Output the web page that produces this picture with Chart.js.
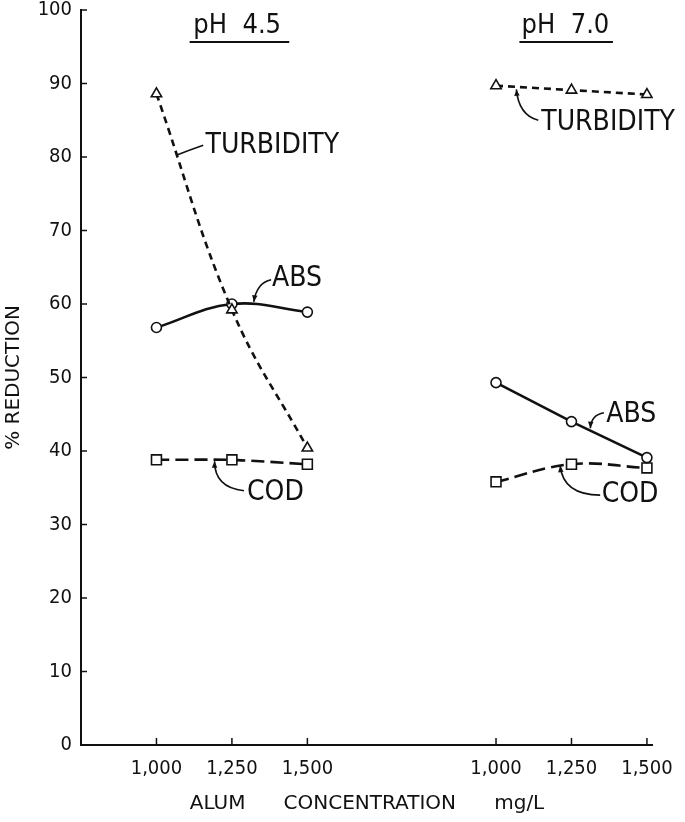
<!DOCTYPE html>
<html>
<head>
<meta charset="utf-8">
<script src="https://cdn.jsdelivr.net/npm/chart.js@4.4.0/dist/chart.umd.min.js"></script>
<style>
  html, body { margin: 0; padding: 0; background: #fff; }
</style>
</head>
<body>
<canvas id="chart" width="685" height="822"></canvas>
<script>
const doses = [1000, 1250, 1500];
const doseLabels = ['1,000', '1,250', '1,500'];
const groupNames = ['pH  4.5', 'pH  7.0'];

// % reduction, one value per dose
const turbidity45 = [88.6, 59.2, 40.4];
const abs45 = [56.8, 60.0, 58.9];
const cod45 = [38.8, 38.8, 38.2];
const turbidity70 = [89.7, 89.1, 88.5];
const abs70 = [49.3, 44.0, 39.1];
const cod70 = [35.8, 38.2, 37.7];

const groupStart = [0, 4.5]; // where each pH block begins on the x axis
const FONT = '"DejaVu Sans Condensed", "Liberation Sans Narrow", "DejaVu Sans", sans-serif';
const WIDE = '"DejaVu Sans", sans-serif';
const INK = '#111';

const toX = (g, dose) => groupStart[g] + (dose - 1000) / 250;

const tickSpots = [];
groupStart.forEach((s, g) => doses.forEach((d, i) => tickSpots.push({ value: toX(g, d), label: doseLabels[i] })));

function series(values, g, style) {
  return Object.assign({
    data: doses.map((d, i) => ({ x: toX(g, d), y: values[i] })),
    borderColor: INK,
    borderWidth: 2.6,
    pointBackgroundColor: '#fff',
    pointBorderColor: INK,
    pointBorderWidth: 1.6,
    fill: false
  }, style);
}

const turbStyle = { borderDash: [7, 5], pointStyle: 'triangle', pointRadius: 6 };
const absStyle = { pointStyle: 'circle', pointRadius: 5 };
const codStyle = { borderDash: [13, 6], pointStyle: 'rect', pointRadius: 7 };

// text labels with their leader lines (data coordinates)
const notes = [
  { text: 'TURBIDITY', at: [0.65, 81.5], from: [0.28, 80.3], ctrl: [0.45, 81.0], to: [0.62, 81.6] },
  { text: 'TURBIDITY', at: [5.10, 84.6], from: [4.77, 89.2], ctrl: [4.80, 85.7], to: [5.06, 85.0], arrow: true },
  { text: 'ABS', at: [1.53, 63.5], from: [1.29, 60.3], ctrl: [1.33, 62.9], to: [1.52, 63.3], arrow: true },
  { text: 'COD', at: [1.20, 34.3], from: [0.77, 38.6], ctrl: [0.77, 35.0], to: [1.16, 34.6], arrow: true },
  { text: 'ABS', at: [5.96, 44.9], from: [5.75, 43.1], ctrl: [5.76, 44.9], to: [5.93, 45.2], arrow: true },
  { text: 'COD', at: [5.90, 34.0], from: [5.35, 38.0], ctrl: [5.39, 34.0], to: [5.88, 34.0], arrow: true }
];
const headers = [
  { text: groupNames[0], at: [1.07, 97.8], line: [0.44, 1.76, 95.65] },
  { text: groupNames[1], at: [5.42, 97.8], line: [4.81, 6.05, 95.65] }
];

const annotate = {
  id: 'annotate',
  afterDraw(chart) {
    const { ctx, scales: { x, y } } = chart;
    const px = v => x.getPixelForValue(v);
    const py = v => y.getPixelForValue(v);
    ctx.save();
    ctx.strokeStyle = INK;
    ctx.fillStyle = INK;

    // inward tick marks
    ctx.lineWidth = 1.5;
    y.ticks.forEach(t => {
      ctx.beginPath();
      ctx.moveTo(x.left, py(t.value));
      ctx.lineTo(x.left + 6, py(t.value));
      ctx.stroke();
    });
    tickSpots.forEach(t => {
      ctx.beginPath();
      ctx.moveTo(px(t.value), y.bottom);
      ctx.lineTo(px(t.value), y.bottom - 7);
      ctx.stroke();
    });

    // group headers
    ctx.font = '27px ' + FONT;
    ctx.textAlign = 'center';
    ctx.textBaseline = 'middle';
    headers.forEach(h => {
      ctx.fillText(h.text, px(h.at[0]), py(h.at[1]));
      ctx.lineWidth = 2;
      ctx.beginPath();
      ctx.moveTo(px(h.line[0]), py(h.line[2]));
      ctx.lineTo(px(h.line[1]), py(h.line[2]));
      ctx.stroke();
    });

    // series labels
    ctx.font = '28px ' + FONT;
    ctx.textAlign = 'left';
    notes.forEach(n => {
      ctx.fillText(n.text, px(n.at[0]), py(n.at[1]));
      ctx.lineWidth = 1.6;
      ctx.beginPath();
      ctx.moveTo(px(n.from[0]), py(n.from[1]));
      ctx.quadraticCurveTo(px(n.ctrl[0]), py(n.ctrl[1]), px(n.to[0]), py(n.to[1]));
      ctx.stroke();
      if (n.arrow) {
        const ax = px(n.from[0]), ay = py(n.from[1]);
        const ang = Math.atan2(ay - py(n.ctrl[1]), ax - px(n.ctrl[0]));
        ctx.beginPath();
        ctx.moveTo(ax, ay);
        ctx.lineTo(ax - 7 * Math.cos(ang - 0.4), ay - 7 * Math.sin(ang - 0.4));
        ctx.lineTo(ax - 7 * Math.cos(ang + 0.4), ay - 7 * Math.sin(ang + 0.4));
        ctx.closePath();
        ctx.fill();
      }
    });
    ctx.restore();
  }
};

new Chart(document.getElementById('chart'), {
  type: 'line',
  data: {
    datasets: [
      series(turbidity45, 0, Object.assign({ tension: 0.4 }, turbStyle)),
      series(abs45, 0, Object.assign({ tension: 0.4 }, absStyle)),
      series(cod45, 0, Object.assign({ tension: 0.2 }, codStyle)),
      series(turbidity70, 1, Object.assign({ tension: 0 }, turbStyle)),
      series(abs70, 1, Object.assign({ tension: 0 }, absStyle)),
      series(cod70, 1, Object.assign({ tension: 0.4 }, codStyle))
    ]
  },
  options: {
    responsive: false,
    animation: false,
    layout: { padding: { top: 10, right: 30, left: 0, bottom: 0 } },
    plugins: { legend: { display: false }, tooltip: { enabled: false } },
    scales: {
      x: {
        type: 'linear',
        min: -1,
        max: 6.58,
        afterBuildTicks: s => { s.ticks = tickSpots.map(t => ({ value: t.value })); },
        afterFit: s => { s.height = 77; },
        grid: { display: false, drawTicks: false },
        border: { color: INK, width: 2 },
        ticks: {
          autoSkip: false,
          maxRotation: 0,
          padding: 12,
          color: INK,
          font: { family: FONT, size: 20 },
          callback: v => {
            const t = tickSpots.find(s => Math.abs(s.value - v) < 1e-6);
            return t ? t.label : '';
          }
        },
        title: {
          display: true,
          text: 'ALUM      CONCENTRATION      mg/L',
          color: INK,
          font: { family: WIDE, size: 20 },
          padding: { top: 0, bottom: 6 }
        }
      },
      y: {
        min: 0,
        max: 100,
        afterFit: s => { s.width = 81; s.paddingTop = 0; s.paddingBottom = 0; },
        grid: { display: false, drawTicks: false },
        border: { color: INK, width: 2 },
        ticks: {
          stepSize: 10,
          padding: 9,
          color: INK,
          font: { family: FONT, size: 20 }
        },
        title: {
          display: true,
          text: '% REDUCTION',
          color: INK,
          font: { family: WIDE, size: 20 },
          padding: { top: 2, bottom: 0 }
        }
      }
    }
  },
  plugins: [annotate]
});
</script>
</body>
</html>
